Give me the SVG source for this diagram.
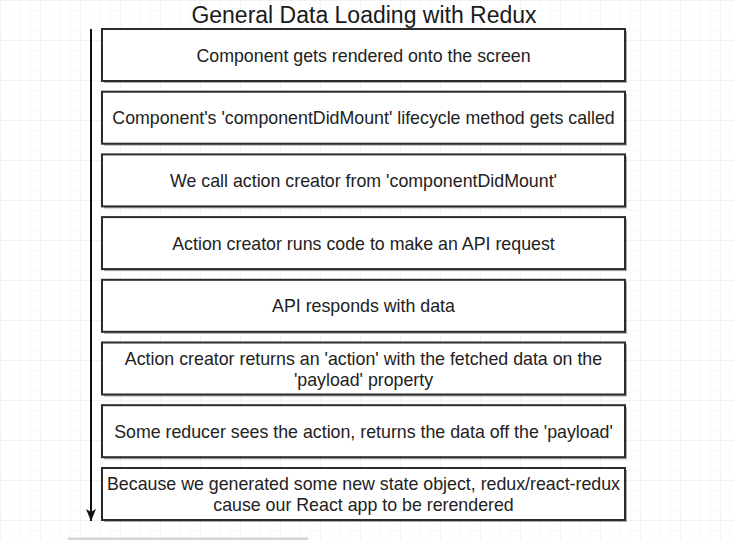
<svg xmlns="http://www.w3.org/2000/svg" width="734" height="540" viewBox="0 0 734 540">
<style>
.box{fill:#fff;stroke:#2b2b2b;stroke-width:2}
.shadow{fill:#8a8a8a;opacity:0.7}
.t{font-family:"Liberation Sans",Arial,sans-serif;font-size:17.8px;fill:#222;text-anchor:middle}
.title{font-family:"Liberation Sans",Arial,sans-serif;font-size:23px;fill:#1a1a1a;text-anchor:middle}
</style>
<defs>
<pattern id="grid" width="10" height="10" patternUnits="userSpaceOnUse">
<path d="M10 0H0V10" fill="none" stroke="#f3f3f3" stroke-width="1"/>
</pattern>
<pattern id="gridM" width="40" height="40" patternUnits="userSpaceOnUse">
<path d="M40 0H0V40" fill="none" stroke="#ececec" stroke-width="1"/>
</pattern>
<marker id="arr" markerWidth="12" markerHeight="10" refX="12" refY="5" orient="auto" markerUnits="userSpaceOnUse" viewBox="0 0 12 10">
<path d="M0 0L12 5L0 10L3 5Z" fill="#111"/>
</marker>
</defs>
<rect width="734" height="540" fill="#fff"/>
<rect width="734" height="540" fill="url(#grid)"/>
<rect width="734" height="540" fill="url(#gridM)"/>
<text class="title" x="364" y="22.5">General Data Loading with Redux</text>
<g id="connectors">
<line x1="91" y1="29" x2="91" y2="521" stroke="#111" stroke-width="2" marker-end="url(#arr)"/>
</g>
<g id="n1"><rect class="shadow" x="104" y="31" width="523" height="52"/><rect class="box" x="102" y="29" width="523" height="52"/><text class="t" x="363.5" y="61.5">Component gets rendered onto the screen</text></g>
<g id="n2"><rect class="shadow" x="104" y="93.7" width="523" height="52"/><rect class="box" x="102" y="91.7" width="523" height="52"/><text class="t" x="363.5" y="124.2">Component's 'componentDidMount' lifecycle method gets called</text></g>
<g id="n3"><rect class="shadow" x="104" y="156.4" width="523" height="52"/><rect class="box" x="102" y="154.4" width="523" height="52"/><text class="t" x="363.5" y="186.9">We call action creator from 'componentDidMount'</text></g>
<g id="n4"><rect class="shadow" x="104" y="219.1" width="523" height="52"/><rect class="box" x="102" y="217.1" width="523" height="52"/><text class="t" x="363.5" y="249.6">Action creator runs code to make an API request</text></g>
<g id="n5"><rect class="shadow" x="104" y="281.8" width="523" height="52"/><rect class="box" x="102" y="279.8" width="523" height="52"/><text class="t" x="363.5" y="312.3">API responds with data</text></g>
<g id="n6"><rect class="shadow" x="104" y="344.5" width="523" height="52"/><rect class="box" x="102" y="342.5" width="523" height="52"/><text class="t" x="363.5" y="365">Action creator returns an 'action' with the fetched data on the</text><text class="t" x="363.5" y="385.5">'payload' property</text></g>
<g id="n7"><rect class="shadow" x="104" y="407.2" width="523" height="52"/><rect class="box" x="102" y="405.2" width="523" height="52"/><text class="t" x="363.5" y="437.7">Some reducer sees the action, returns the data off the 'payload'</text></g>
<g id="n8"><rect class="shadow" x="104" y="470" width="523" height="52"/><rect class="box" x="102" y="468" width="523" height="52"/><text class="t" x="363.5" y="490">Because we generated some new state object, redux/react-redux</text><text class="t" x="363.5" y="510.5">cause our React app to be rerendered</text></g>
<rect x="68" y="537.5" width="240" height="3" fill="#d4d4d4"/>
</svg>
